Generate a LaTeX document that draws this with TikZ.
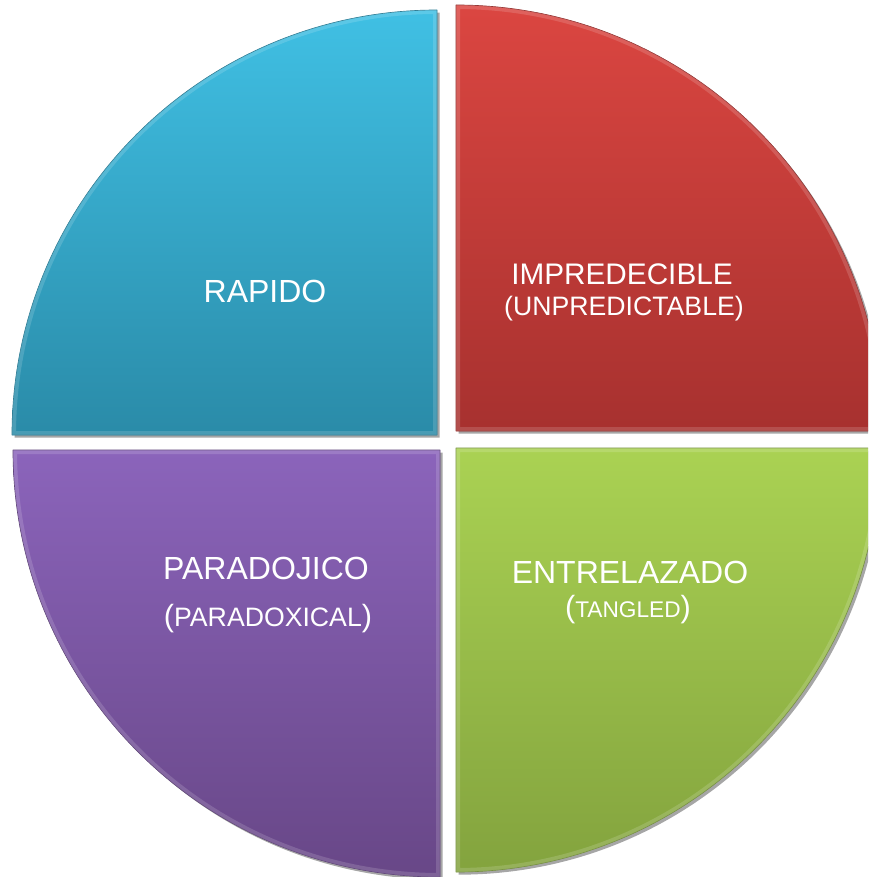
\documentclass[tikz,border=0pt]{standalone}
\usepackage{fontspec}
\setmainfont{Liberation Sans}
\usepackage{tikz}
\usetikzlibrary{shadows}
\tikzset{>=latex}
\usepackage{xcolor}
\definecolor{bluetop}{HTML}{40C0E4}
\definecolor{bluebot}{HTML}{2A8BA8}
\definecolor{redtop}{HTML}{DB4641}
\definecolor{redbot}{HTML}{A7312F}
\definecolor{purpletop}{HTML}{8B64BB}
\definecolor{purplebot}{HTML}{684787}
\definecolor{greentop}{HTML}{AAD253}
\definecolor{greenbot}{HTML}{83A33E}

\begin{document}
\begin{tikzpicture}[x=0.75pt, y=0.75pt,
                    line join=round,
                    quarter/.style={drop shadow={shadow xshift=2pt, shadow yshift=-2pt,
                                                 opacity=0.35, fill=black}},
                    word/.style={text=white, inner sep=0pt, anchor=base}]
  \def\bigp#1{{\fontsize{23}{27}\selectfont #1}}
  \def\mainfont{\fontsize{24}{28}\selectfont}
  \def\subfont{\fontsize{20}{24}\selectfont}

  \useasboundingbox (0,0) rectangle (868,-877);
  \clip (0,0) rectangle (868,-877);

  % FOUR QUARTERS (corner x / corner y / end angle / radius / colour)
  \foreach \cx/\cy/\a/\r/\col in {437/435/90/425/blue, 456/431/0/426/red,
                                  440/450/180/427/purple, 456/448/270/424/green}{
    \path[quarter, top color=\col top, bottom color=\col bot,
          draw=\col bot!85!black, line width=0.5pt]
      (\cx,-\cy) -- ++(\a+90:\r) arc[start angle=\a+90, end angle=\a, radius=\r] -- cycle;
    % light bevel along the edges
    \begin{scope}
      \clip (\cx,-\cy) -- ++(\a+90:\r) arc[start angle=\a+90, end angle=\a, radius=\r] -- cycle;
      \draw[white, opacity=0.15, line width=6pt]
        (\cx,-\cy) -- ++(\a+90:\r) arc[start angle=\a+90, end angle=\a, radius=\r] -- cycle;
    \end{scope}
  }

  % TEXTS
  \node[word, font=\mainfont] (rapido) at (265,-302) {RAPIDO};
  \node[word, font=\fontsize{22.3}{26}\selectfont] (impre) at (622,-284) {IMPREDECIBLE};
  \node[word, font=\subfont] (unpre) at (624,-315) {(UNPREDICTABLE)};
  \node[word, font=\mainfont] (parado) at (266,-579) {PARADOJICO};
  \node[word, font=\subfont] (paradox) at (268,-626) {\bigp(PARADOXICAL\bigp)};
  \node[word, font=\mainfont] (entre) at (630,-583) {ENTRELAZADO};
  \node[word, font=\fontsize{17}{20}\selectfont] (tangled) at (628,-617) {\bigp(TANGLED\bigp)};

\end{tikzpicture}
\end{document}
